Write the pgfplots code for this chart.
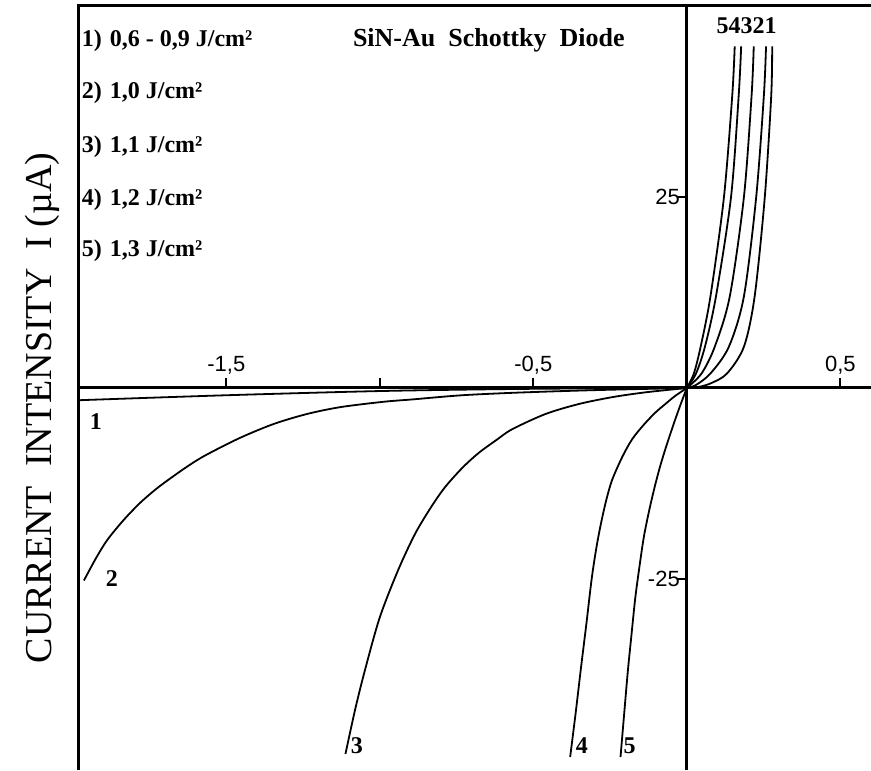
\documentclass[border=0pt]{standalone}
\usepackage{fontspec}
\setmainfont{Liberation Serif}
\setsansfont{Liberation Sans}
\usepackage{pgfplots}
\pgfplotsset{compat=1.18}
\tikzset{curve/.style={black, solid, line width=0.9pt, smooth, tension=0.5, mark=none}}
\begin{document}
\begin{tikzpicture}
\path[use as bounding box] (-39.5pt,0pt) rectangle (396pt,385pt);
\begin{axis}[
  at={(0pt,0pt)}, anchor=south west,
  width=396pt, height=382pt, scale only axis,
  xmin=-1.98, xmax=0.6, ymin=-50, ymax=50,
  axis x line=middle, axis y line=middle,
  axis line style={-, line width=1.5pt},
  xtick={-1.5,-1,-0.5,0.5},
  xticklabels={{-1,5},{},{-0,5},{0,5}},
  ytick={-25,25},
  yticklabels={{-25},{25}},
  major tick length=5pt,
  tick align=center,
  x tick style={line width=1pt, black, yshift=2.5pt},
  y tick style={line width=1pt, black, xshift=-2pt},
  x tick label style={font=\sffamily\fontsize{11}{12}\selectfont, anchor=south, yshift=6pt},
  y tick label style={font=\sffamily\fontsize{11}{12}\selectfont, anchor=east, xshift=2.5pt},
  clip=false,
]
% curve 1
\addplot[curve] coordinates {(-1.98,-1.6) (-1.5,-0.95) (-1.0,-0.4) (-0.6,-0.15) (-0.3,-0.05) (0,0)};
\addplot[curve] coordinates {(0,0) (0.04,0.15) (0.08,0.65) (0.131,1.9) (0.186,5.4) (0.221,12) (0.254,25) (0.275,38.3) (0.278,44.7)};
% curve 2
\addplot[curve] coordinates {(-1.964,-25.2) (-1.925,-22.3) (-1.888,-19.9) (-1.835,-17.3) (-1.780,-15.0) (-1.725,-13.1) (-1.671,-11.5) (-1.617,-10.0) (-1.563,-8.7) (-1.454,-6.5) (-1.345,-4.7) (-1.237,-3.4) (-1.128,-2.5) (-0.987,-1.8) (-0.895,-1.5) (-0.732,-0.95) (-0.547,-0.6) (-0.3,-0.28) (0,0)};
\addplot[curve] coordinates {(0,0) (0.03,0.4) (0.077,1.9) (0.137,5.4) (0.186,12) (0.226,25) (0.251,38.3) (0.258,44.7)};
% curve 3
\addplot[curve] coordinates {(-1.112,-47.9) (-1.080,-42.0) (-1.047,-36.7) (-1.000,-30.0) (-0.940,-23.8) (-0.884,-19.0) (-0.830,-15.4) (-0.786,-12.9) (-0.730,-10.4) (-0.678,-8.5) (-0.620,-6.8) (-0.569,-5.4) (-0.460,-3.4) (-0.352,-2.1) (-0.243,-1.2) (-0.135,-0.57) (0,0)};
\addplot[curve] coordinates {(0,0) (0.048,1.9) (0.091,5.4) (0.140,12) (0.186,25) (0.211,38.3) (0.218,44.7)};
% curve 4
\addplot[curve] coordinates {(-0.380,-48.3) (-0.362,-42.5) (-0.345,-36.7) (-0.327,-30.8) (-0.310,-25.0) (-0.295,-21.0) (-0.280,-17.8) (-0.262,-14.6) (-0.243,-12.0) (-0.210,-9.0) (-0.178,-6.7) (-0.140,-4.8) (-0.102,-3.2) (-0.070,-2.1) (-0.040,-1.1) (0,0)};
\addplot[curve] coordinates {(0,0) (0.030,1.9) (0.059,5.4) (0.095,12) (0.144,25) (0.169,38.3) (0.177,44.7)};
% curve 5
\addplot[curve] coordinates {(-0.216,-48.3) (-0.204,-42.6) (-0.192,-37.0) (-0.180,-32.2) (-0.168,-27.5) (-0.154,-23.3) (-0.140,-19.5) (-0.123,-16.1) (-0.105,-13.0) (-0.088,-10.4) (-0.070,-8.0) (-0.052,-5.8) (-0.035,-3.8) (-0.017,-1.8) (0,0)};
\addplot[curve] coordinates {(0,0) (0.023,1.9) (0.045,5.4) (0.077,12) (0.121,25) (0.148,38.3) (0.156,44.7)};
% frame (left and top)
\draw[line width=1.5pt] (rel axis cs:0,0) -- (rel axis cs:0,1) -- (rel axis cs:1,1);
% legend text
\begin{scope}[every node/.style={font=\bfseries\fontsize{12}{14}\selectfont, anchor=west, inner sep=0pt}]
\node at (axis cs:-1.972,45.5) {1)\,\,0,6 - 0,9 J/cm²};
\node at (axis cs:-1.972,38.6) {2)\,\,1,0 J/cm²};
\node at (axis cs:-1.972,31.6) {3)\,\,1,1 J/cm²};
\node at (axis cs:-1.972,24.7) {4)\,\,1,2 J/cm²};
\node at (axis cs:-1.972,17.9) {5)\,\,1,3 J/cm²};
\end{scope}
\node[font=\bfseries\fontsize{13}{15}\selectfont] at (axis cs:-0.645,45.5) {SiN-Au\ \ Schottky\ \ Diode};
\node[font=\bfseries\fontsize{12}{14}\selectfont] at (axis cs:0.195,47.4) {54321};
% curve labels
\begin{scope}[every node/.style={font=\bfseries\fontsize{12}{14}\selectfont, inner sep=0pt}]
\node at (axis cs:-1.925,-4.4) {1};
\node at (axis cs:-1.873,-24.9) {2};
\node at (axis cs:-1.075,-46.8) {3};
\node at (axis cs:-0.342,-46.8) {4};
\node at (axis cs:-0.186,-46.8) {5};
\end{scope}
\node[rotate=90, font=\fontsize{19}{21}\selectfont] at ([xshift=-18.5pt]rel axis cs:0,0.474) {CURRENT\ \ INTENSITY\ \ I (µA)};
\end{axis}
\end{tikzpicture}
\end{document}
